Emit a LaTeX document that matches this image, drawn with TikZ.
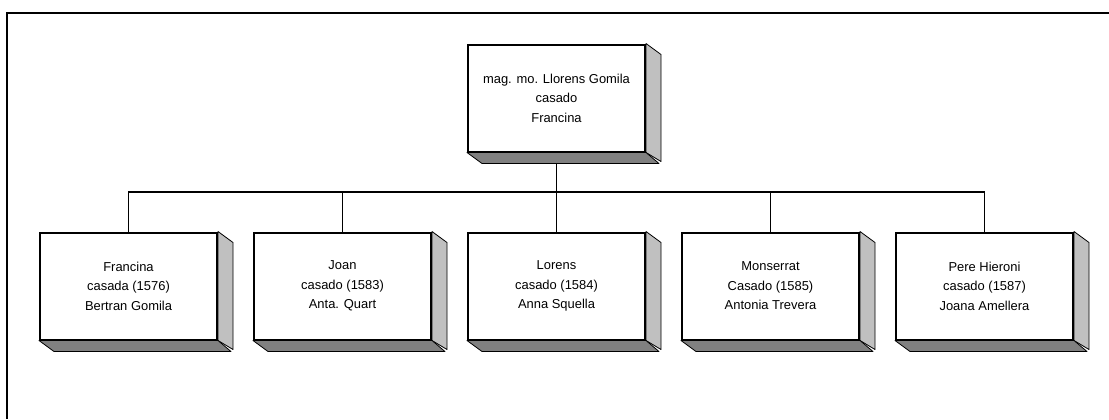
\documentclass[tikz,border=0pt]{standalone}
\usepackage{fontspec}
\setmainfont{Liberation Sans}
\definecolor{caralat}{HTML}{C0C0C0}
\definecolor{carabaix}{HTML}{808080}
\begin{document}
\begin{tikzpicture}[x=0.75pt, y=-0.75pt,
    persona/.style={draw, line width=1.5pt, fill=white, minimum width=132.75pt, minimum height=80.25pt,
      inner sep=0pt, align=center, font=\fontsize{9.7}{14.6}\selectfont},
    llinia/.style={line width=1.3pt},
    cara/.style={draw, line width=0.6pt, line join=round}]
    \useasboundingbox (0,0) rectangle (1109,419);
    \draw[line width=1.5pt] (1109,13) -- (7,13) -- (7,419);
  	% el pare
    \node(pare) at (556.5,98) [persona] {mag. mo. Llorens Gomila\\casado\\Francina};
  	% els fills
    \node(f1) at (128.5,286) [persona] {Francina\\casada (1576)\\Bertran Gomila};
    \node(f2) at (342.5,286) [persona] {Joan\\casado (1583)\\Anta. Quart};
    \node(f3) at (556.5,286) [persona] {Lorens\\casado (1584)\\Anna Squella};
    \node(f4) at (770.5,286) [persona] {Monserrat\\Casado (1585)\\Antonia Trevera};
    \node(f5) at (984.5,286) [persona] {Pere Hieroni\\casado (1587)\\Joana Amellera};
    \coordinate(bus) at (556.5,192);
    \draw[llinia] (pare.south) -- (bus);
    \foreach \f in {f1,f2,f3,f4,f5}
      \draw[llinia] (bus) -| (\f.north);
    % relleu de les caixes
    \foreach \f in {pare,f1,f2,f3,f4,f5} {
      \draw[cara, fill=caralat] (\f.north east) -- ++(15,11) -- ++(0,107) -- (\f.south east) -- cycle;
      \draw[cara, fill=carabaix] (\f.south west) -- ++(15,11) -- ++(177,0) -- (\f.south east) -- cycle;
    }
  \end{tikzpicture}
\end{document}
